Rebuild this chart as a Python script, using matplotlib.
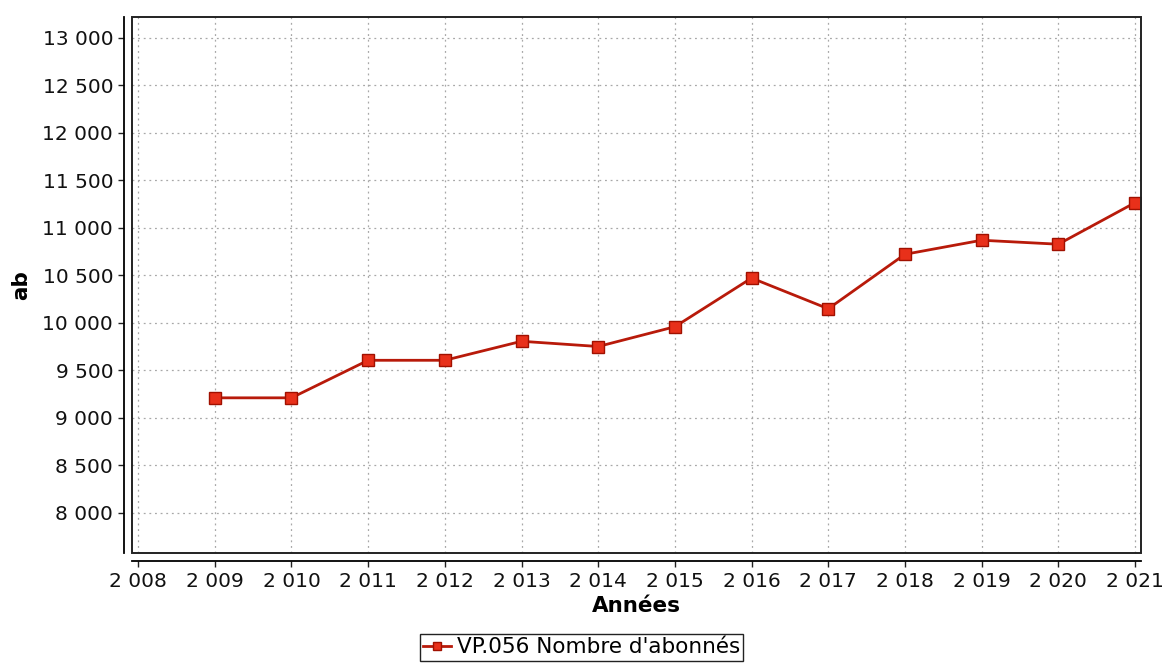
import matplotlib.pyplot as plt
from matplotlib.patches import Rectangle
from matplotlib.ticker import FuncFormatter, MultipleLocator

years = [2009, 2010, 2011, 2012, 2013, 2014, 2015, 2016, 2017, 2018, 2019, 2020, 2021]
abonnes = [9210, 9210, 9605, 9605, 9805, 9750, 9958, 10470, 10147, 10720, 10868, 10826, 11263]
series_label = "VP.056 Nombre d'abonnés"

fig = plt.figure(figsize=(11.68, 6.66), dpi=100)
ax = fig.add_axes([0.113, 0.170, 0.864, 0.805])

ax.plot(years, abonnes, color='#b81a0a', lw=2, marker='s', ms=9,
        markerfacecolor='#e8301a', markeredgecolor='#a01000', mew=1,
        label=series_label, zorder=3)

ax.set_xlim(2007.92, 2021.08)
ax.set_ylim(7580, 13220)
ax.xaxis.set_major_locator(MultipleLocator(1))
ax.set_yticks([v for v in range(8000, 13001, 500)])

fmt = FuncFormatter(lambda v, p: f"{v:,.0f}".replace(",", " "))
ax.xaxis.set_major_formatter(fmt)
ax.yaxis.set_major_formatter(fmt)

ax.grid(True, color='#a8a8a8', ls=(0, (1.5, 3)), lw=0.9)

# axes drawn apart from the plot frame
for s in ['left', 'bottom']:
    ax.spines[s].set_position(('outward', 6))
    ax.spines[s].set_linewidth(1.3)
ax.spines['top'].set_visible(False)
ax.spines['right'].set_visible(False)
ax.add_patch(Rectangle((0, 0), 1, 1, transform=ax.transAxes, fill=False,
                       lw=1.4, ec='#222222', clip_on=False, zorder=4))

ax.tick_params(axis='both', labelsize=14.5, length=4, width=1, colors='#222222', labelcolor='#111111')
ax.set_xlabel("Années", fontsize=15.5, fontweight='bold', labelpad=4)
ax.set_ylabel("ab", fontsize=15.5, fontweight='bold', labelpad=8)

fig.legend(loc='lower center', bbox_to_anchor=(0.498, -0.008), fontsize=15.5,
           frameon=True, fancybox=False, edgecolor='#222222', framealpha=1,
           handlelength=1.3, borderpad=0.15, handletextpad=0.25, markerscale=0.7)

fig.savefig("out.png", dpi=100)
